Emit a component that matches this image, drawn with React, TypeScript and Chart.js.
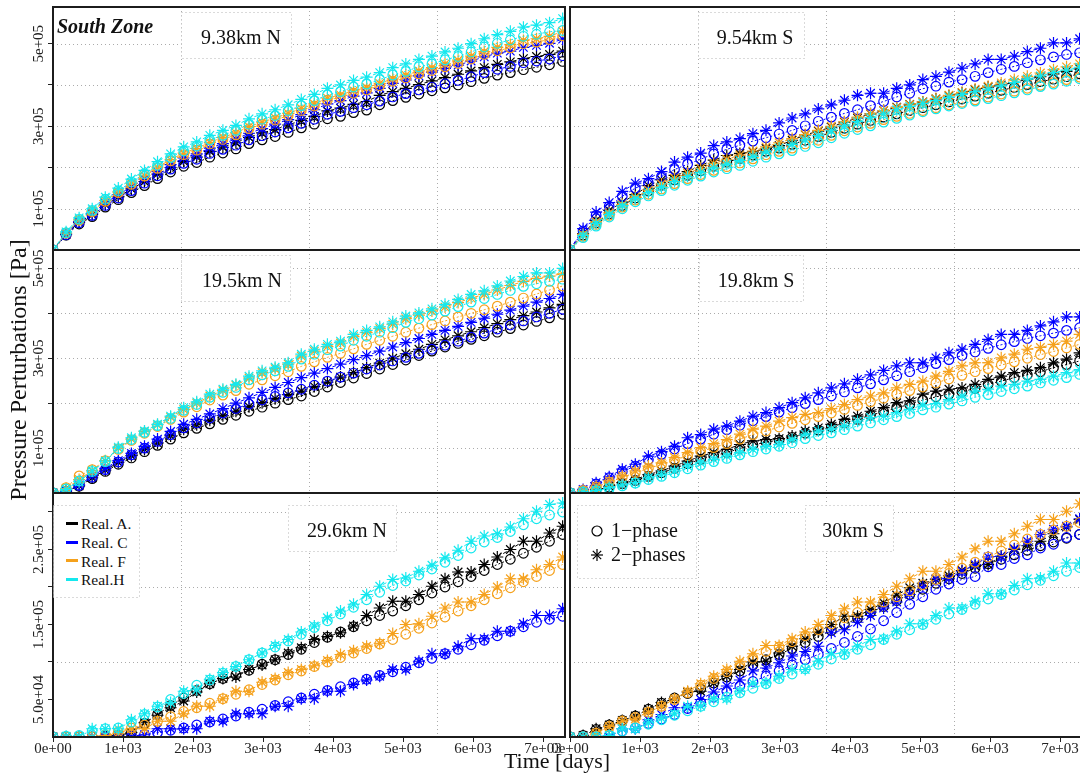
import React, { useEffect, useRef } from 'react';
import { Chart, registerables } from 'chart.js';

Chart.register(...registerables);

const SERIF = "'Liberation Serif', 'DejaVu Serif', 'Times New Roman', serif";

// ---- time axis (days) ----
const TIME_DAYS = [0, 187, 373, 560, 747, 933, 1120, 1307, 1493, 1680,
  1867, 2053, 2240, 2427, 2613, 2800, 2987, 3173, 3360, 3547,
  3733, 3920, 4107, 4293, 4480, 4667, 4853, 5040, 5227, 5413,
  5600, 5787, 5973, 6160, 6347, 6533, 6720, 6907, 7093, 7280];

// ---- values in kPa ----  (_1 = 1-phase, _2 = 2-phases)
// 9.38km N
const N938_A_1 = [0,36,63,81,104,122,139,156,173,189,203,212,225,235,245,258,267,275,285,296,305,318,324,333,339,352,362,370,378,386,393,400,408,416,424,430,437,443,449,457];
const N938_A_2 = [0,38,67,86,110,129,148,166,184,200,215,225,239,249,260,273,284,292,303,314,324,337,344,353,360,375,384,392,401,410,418,426,434,442,450,456,464,469,474,482];
const N938_C_1 = [0,37,66,84,108,126,144,162,180,196,210,220,234,244,254,267,277,286,296,307,317,329,336,345,352,361,371,379,388,395,403,411,420,430,438,445,454,458,463,471];
const N938_C_2 = [0,39,69,89,114,134,153,172,190,207,223,233,247,258,269,283,294,305,316,328,340,354,362,373,381,392,404,412,422,431,440,448,458,468,477,482,491,496,501,511];
const N938_F_1 = [0,41,72,93,118,139,159,179,198,216,231,242,257,268,279,294,305,315,326,338,349,363,370,380,388,398,409,417,427,435,444,452,463,474,483,490,500,504,510,519];
const N938_F_2 = [0,41,73,94,120,141,162,181,201,219,235,246,261,273,284,299,310,320,331,343,354,368,376,386,394,404,415,424,434,442,451,460,470,481,491,498,508,512,518,530];
const N938_H_1 = [0,42,75,96,123,144,165,185,205,224,240,252,267,278,290,305,317,326,338,350,362,376,384,395,402,413,424,433,444,451,461,469,480,492,501,509,518,523,529,532];
const N938_H_2 = [0,44,78,100,128,150,172,193,214,233,250,262,278,290,302,318,330,340,352,365,377,392,400,411,419,430,442,451,462,470,480,489,500,512,522,530,540,545,551,561];
// 9.54km S
const S954_A_1 = [0,36,66,88,108,126,143,157,170,181,192,203,213,222,230,239,247,256,266,275,285,295,305,314,322,330,338,345,352,359,366,373,380,387,394,401,408,414,420,427];
const S954_A_2 = [0,40,72,96,116,134,156,170,181,190,205,218,229,234,238,246,253,266,279,288,298,310,320,330,338,346,353,359,366,374,381,388,395,400,406,414,420,427,433,439];
const S954_C_1 = [0,46,84,106,130,150,163,178,195,208,220,233,244,254,264,272,281,290,301,312,322,331,340,350,360,371,380,391,397,407,413,421,430,438,445,454,461,468,474,478];
const S954_C_2 = [0,52,92,115,142,162,173,190,213,225,235,253,262,270,282,290,308,320,330,342,352,363,375,380,380,392,400,413,421,431,441,451,462,462,470,481,489,502,502,512];
const S954_F_1 = [0,33,62,84,104,121,135,148,161,173,183,193,202,211,221,231,239,247,257,266,278,289,298,307,316,324,331,338,345,352,358,364,371,378,385,392,399,406,413,419];
const S954_F_2 = [0,38,68,90,110,128,145,160,174,186,198,210,220,230,240,250,260,270,280,290,300,311,322,330,338,345,352,359,367,375,382,390,397,405,413,421,429,437,444,451];
const S954_H_1 = [0,30,58,80,100,117,131,144,157,169,179,189,197,205,215,225,233,241,251,260,272,283,292,301,310,319,327,335,342,349,355,361,367,374,381,388,396,402,409,415];
const S954_H_2 = [0,35,64,86,107,124,139,152,166,178,188,199,208,217,227,238,247,256,267,277,289,301,311,321,330,340,348,355,362,370,377,384,390,398,406,414,422,430,436,443];
// 19.5km N
const N195_A_1 = [0,4,15,32,48,64,78,92,106,120,134,144,154,164,173,182,191,200,208,216,226,236,246,256,266,276,286,296,306,316,325,333,342,350,358,366,374,382,390,398];
const N195_A_2 = [0,4,16,34,51,68,83,97,111,127,142,152,162,172,182,192,201,210,219,227,237,247,258,268,279,289,300,310,320,331,341,350,359,368,377,386,395,403,412,420];
const N195_C_1 = [0,4,17,35,52,69,85,100,115,130,145,156,167,178,188,198,207,215,223,231,240,249,258,267,276,285,294,302,311,320,329,338,347,356,365,374,383,392,400,409];
const N195_C_2 = [0,5,18,38,55,72,88,104,120,137,153,164,176,188,200,212,224,235,246,257,267,277,287,297,306,316,325,335,344,353,362,371,380,389,398,407,416,425,433,442];
const N195_F_1 = [0,12,38,52,72,97,117,133,148,164,180,192,207,218,228,242,252,261,270,282,292,302,311,321,331,340,349,358,367,375,383,392,400,408,416,425,434,443,452,461];
const N195_F_2 = [0,10,30,50,72,100,120,137,152,169,186,200,216,228,240,256,268,277,287,305,316,326,334,348,357,366,376,388,396,405,414,424,434,442,452,462,471,478,483,488];
const N195_H_1 = [0,9,27,48,70,99,119,135,150,166,184,197,213,224,235,252,263,272,282,298,309,319,327,340,349,358,368,380,388,396,405,415,425,433,442,451,460,466,471,476];
const N195_H_2 = [0,8,25,49,71,102,123,138,153,171,190,203,220,231,242,260,272,280,290,309,320,331,338,353,362,370,381,394,401,410,420,431,442,450,461,472,482,490,490,500];
// 19.8km S
const S198_A_1 = [0,2,7,13,21,28,37,45,55,65,75,83,90,99,107,113,118,124,133,140,147,156,164,173,181,190,197,207,214,220,225,233,242,249,257,263,270,279,286,294];
const S198_A_2 = [0,2,8,15,23,30,41,49,60,71,82,90,97,108,116,119,121,127,138,145,153,164,171,182,190,201,205,220,227,231,234,242,253,260,268,273,279,290,298,312];
const S198_C_1 = [0,6,20,34,48,60,74,86,98,110,120,131,141,151,161,170,180,190,199,208,216,225,234,243,252,261,270,279,288,297,306,314,322,330,337,344,350,356,362,368];
const S198_C_2 = [0,8,23,36,53,64,82,92,104,123,130,142,149,160,171,179,190,201,212,223,234,243,253,263,273,283,290,290,301,312,320,331,342,353,353,362,372,381,392,392];
const S198_F_1 = [0,5,13,24,35,45,55,63,73,83,93,101,110,120,130,138,147,155,163,170,178,186,195,203,211,220,228,236,245,254,262,270,277,285,292,300,308,315,323,331];
const S198_F_2 = [0,6,15,27,38,49,60,67,79,90,101,110,119,131,142,149,160,168,175,179,188,197,208,216,223,234,242,249,260,271,283,290,290,301,309,320,324,331,338,353];
const S198_H_1 = [0,2,5,10,16,22,30,37,45,54,62,70,77,85,92,98,104,112,121,128,134,141,149,156,163,170,177,185,191,198,205,213,219,226,232,238,245,251,257,264];
const S198_H_2 = [0,2,6,12,18,23,34,41,49,60,67,75,82,90,97,104,108,119,131,138,142,149,160,168,171,179,186,196,199,208,216,227,231,238,242,249,253,260,268,275];
// 29.6km N
const N296_A_1 = [0,0,0,0,1,2,6,18,30,42,52,62,71,78,83,89,97,103,110,117,126,133,140,147,155,162,168,175,183,192,200,207,214,222,230,237,245,253,261,270];
const N296_A_2 = [0,0,0,0,1,2,6,19,29,39,48,60,71,78,80,90,96,103,112,119,130,134,139,148,162,172,181,181,190,201,211,220,220,230,240,250,261,261,272,281];
const N296_C_1 = [0,0,0,0,0,0,1,3,6,9,12,16,20,24,28,33,37,42,47,52,57,62,67,72,77,82,87,93,99,105,111,117,123,129,135,141,147,153,157,161];
const N296_C_2 = [0,0,0,0,0,0,0,3,11,11,11,11,21,21,31,31,31,41,41,51,51,61,61,70,76,81,90,90,101,111,111,121,131,131,141,141,151,162,162,171];
const N296_F_1 = [0,0,0,0,3,7,12,16,21,27,34,39,45,51,57,63,70,76,83,88,94,100,106,112,118,124,130,137,145,152,160,168,175,183,191,199,207,214,222,230];
const N296_F_2 = [0,0,0,0,2,5,11,11,21,21,31,41,41,51,61,61,73,78,86,90,95,102,110,115,121,125,138,150,151,161,172,180,180,190,200,211,211,223,230,240];
const N296_H_1 = [0,1,2,8,11,12,20,30,40,50,58,69,76,85,94,103,112,120,128,137,146,155,164,173,183,193,202,208,216,224,233,242,252,260,266,274,283,291,296,300];
const N296_H_2 = [0,1,1,11,11,11,23,31,41,46,61,63,77,86,94,103,112,122,130,140,148,159,168,177,190,201,210,212,221,229,239,249,261,268,271,280,291,301,310,312];
// 30km S
const S30_A_1 = [0,2,10,16,22,28,37,45,52,58,64,72,80,88,96,103,110,118,126,134,142,150,158,166,174,182,190,197,205,211,218,225,231,237,243,249,255,260,265,270];
const S30_A_2 = [0,2,11,16,22,28,37,46,51,60,61,72,81,90,100,101,112,121,131,140,150,161,161,170,179,189,199,205,210,215,222,228,230,241,250,255,261,271,280,290];
const S30_C_1 = [0,0,0,2,8,12,18,24,30,38,46,53,61,68,74,81,88,96,103,110,118,126,134,144,155,166,177,187,197,204,210,214,227,230,238,243,252,257,266,270];
const S30_C_2 = [0,0,0,0,11,11,23,30,39,39,50,60,68,76,88,92,99,108,114,121,139,143,153,162,172,180,190,201,211,211,221,230,240,241,251,261,270,277,281,291];
const S30_F_1 = [0,0,5,14,21,26,33,41,50,59,69,78,87,96,105,114,120,127,135,143,151,159,166,173,180,187,195,203,210,218,225,233,240,248,256,264,270,276,281,286];
const S30_F_2 = [0,0,5,14,21,24,33,41,51,61,71,81,90,101,111,122,122,131,140,150,162,171,180,180,190,201,211,221,221,230,240,251,261,261,271,281,290,290,301,311];
const S30_H_1 = [0,0,0,2,8,12,17,23,29,35,41,47,53,59,65,71,78,84,91,97,104,110,117,123,130,137,143,150,157,164,170,177,184,190,196,203,209,215,221,226];
const S30_H_2 = [0,0,0,2,11,11,19,25,31,41,41,51,51,61,72,72,81,90,90,101,111,112,121,130,131,141,151,151,162,172,172,181,191,191,202,211,212,221,232,232];

// ---- categories / labels ----
const REALIZATIONS = ['Real. A.', 'Real. C', 'Real. F', 'Real.H'];
const REAL_COLORS = ['#000000', '#0000FF', '#F5A11C', '#14E8EE'];
const PHASE_LABELS = ['1\u2212phase', '2\u2212phases'];

const X_TICKS = [0, 1000, 2000, 3000, 4000, 5000, 6000, 7000];
const X_MAX = 7314;
const ROW_Y_MAX = [589000, 541000, 325300];
const ROW_Y_TICKS = [
  [100000, 200000, 300000, 400000, 500000],
  [100000, 200000, 300000, 400000, 500000],
  [50000, 100000, 150000, 200000, 250000, 300000],
];
const ROW_Y_GRID = [
  [100000, 200000, 300000, 400000, 500000],
  [100000, 200000, 300000, 400000, 500000],
  [100000, 200000, 300000],
];
const ROW_Y_LABEL_VALUES = [
  [100000, 300000, 500000],
  [100000, 300000, 500000],
  [50000, 150000, 250000],
];
const ROW_Y_LABEL_TEXT = [
  ['1e+05', '3e+05', '5e+05'],
  ['1e+05', '3e+05', '5e+05'],
  ['5.0e+04', '1.5e+05', '2.5e+05'],
];

const PANELS = [
  { title: '9.38km N', row: 0, col: 0, one: [N938_A_1, N938_C_1, N938_F_1, N938_H_1], two: [N938_A_2, N938_C_2, N938_F_2, N938_H_2] },
  { title: '9.54km S', row: 0, col: 1, one: [S954_A_1, S954_C_1, S954_F_1, S954_H_1], two: [S954_A_2, S954_C_2, S954_F_2, S954_H_2] },
  { title: '19.5km N', row: 1, col: 0, one: [N195_A_1, N195_C_1, N195_F_1, N195_H_1], two: [N195_A_2, N195_C_2, N195_F_2, N195_H_2] },
  { title: '19.8km S', row: 1, col: 1, one: [S198_A_1, S198_C_1, S198_F_1, S198_H_1], two: [S198_A_2, S198_C_2, S198_F_2, S198_H_2] },
  { title: '29.6km N', row: 2, col: 0, one: [N296_A_1, N296_C_1, N296_F_1, N296_H_1], two: [N296_A_2, N296_C_2, N296_F_2, N296_H_2] },
  { title: '30km S', row: 2, col: 1, one: [S30_A_1, S30_C_1, S30_F_1, S30_H_1], two: [S30_A_2, S30_C_2, S30_F_2, S30_H_2] },
];

// ---- layout ----
const CANVAS_W = 1100;
const CANVAS_H = 773;
const X_AXIS_H = 34;
const COL_X = [[53, 565], [570, 1082]];
const ROW_Y = [[7, 250], [250, 493], [493, 737]];
const TITLE_BOXES = [
  { x: 181, y: 12, w: 111, h: 47, cx: 241 },
  { x: 698, y: 12, w: 107, h: 47, cx: 755 },
  { x: 181, y: 255, w: 110, h: 47, cx: 242 },
  { x: 699, y: 255, w: 105, h: 47, cx: 756 },
  { x: 288, y: 505, w: 109, h: 47, cx: 347 },
  { x: 805, y: 505, w: 89, h: 47, cx: 853 },
];

const fmtX = (v: number) => (v === 0 ? '0e+00' : `${Math.round(v / 1000)}e+03`);

function makeFramePlugin(row: number, col: number) {
  return {
    id: 'frame' + row + col,
    beforeDatasetsDraw(chart: any) {
      const { ctx, chartArea: a, scales } = chart;
      ctx.save();
      ctx.strokeStyle = '#ababab';
      ctx.lineWidth = 1;
      ctx.setLineDash([1, 3]);
      [0.25, 0.5, 0.75].forEach((f) => {
        const x = Math.round(scales.x.getPixelForValue(X_MAX * f)) + 0.5;
        ctx.beginPath(); ctx.moveTo(x, a.top); ctx.lineTo(x, a.bottom); ctx.stroke();
      });
      ROW_Y_GRID[row].forEach((v) => {
        const y = Math.round(scales.y.getPixelForValue(v)) + 0.5;
        ctx.beginPath(); ctx.moveTo(a.left, y); ctx.lineTo(a.right, y); ctx.stroke();
      });
      ctx.restore();
    },
    afterDatasetsDraw(chart: any) {
      const { ctx, chartArea: a, scales } = chart;
      ctx.save();
      ctx.strokeStyle = '#1c1c1c';
      ctx.lineWidth = 2;
      ctx.setLineDash([]);
      ctx.strokeRect(a.left, a.top, a.right - a.left, a.bottom - a.top);
      if (col === 0) {
        ctx.fillStyle = '#222';
        ctx.font = `15px ${SERIF}`;
        ctx.textAlign = 'center';
        ctx.textBaseline = 'alphabetic';
        ROW_Y_LABEL_VALUES[row].forEach((v, k) => {
          const y = scales.y.getPixelForValue(v);
          ctx.save();
          ctx.translate(43, y);
          ctx.rotate(-Math.PI / 2);
          ctx.fillText(ROW_Y_LABEL_TEXT[row][k], 0, 0);
          ctx.restore();
        });
      }
      ctx.restore();
    },
  };
}

function PanelChart({ index }: { index: number }) {
  const ref = useRef<HTMLCanvasElement>(null);
  useEffect(() => {
    const p = PANELS[index];
    const [x0, x1] = COL_X[p.col];
    const [y0, y1] = ROW_Y[p.row];
    const isBottom = p.row === 2;
    const isLeft = p.col === 0;
    const xh = isBottom ? X_AXIS_H : 0;
    const datasets: any[] = [];
    for (let r = 0; r < REALIZATIONS.length; r++) {
      const c = REAL_COLORS[r];
      datasets.push({
        label: `${REALIZATIONS[r]} ${PHASE_LABELS[0]}`,
        data: TIME_DAYS.map((t, i) => ({ x: t, y: p.one[r][i] * 1000 })),
        borderColor: c, backgroundColor: 'transparent', borderWidth: 1, borderDash: [2, 2],
        pointStyle: 'circle', pointRadius: 4.8, pointBorderWidth: 1.2,
        pointBorderColor: c, pointBackgroundColor: 'transparent', tension: 0, fill: false,
      });
      datasets.push({
        label: `${REALIZATIONS[r]} ${PHASE_LABELS[1]}`,
        data: TIME_DAYS.map((t, i) => ({ x: t, y: p.two[r][i] * 1000 })),
        borderColor: c, backgroundColor: 'transparent', borderWidth: 1, borderDash: [4, 3],
        pointStyle: 'star', pointRadius: 6, pointBorderWidth: 1.2,
        pointBorderColor: c, pointBackgroundColor: 'transparent', tension: 0, fill: false,
      });
    }
    datasets.reverse();
    const chart = new Chart(ref.current as HTMLCanvasElement, {
      type: 'line',
      data: { datasets },
      options: {
        animation: false,
        responsive: false,
        devicePixelRatio: 1,
        events: [],
        layout: {
          autoPadding: false,
          padding: { left: x0, right: CANVAS_W - x1, top: y0, bottom: CANVAS_H - y1 - xh },
        },
        plugins: { legend: { display: false }, tooltip: { enabled: false }, title: { display: false } },
        scales: {
          x: {
            type: 'linear', min: 0, max: X_MAX, position: 'bottom',
            afterBuildTicks: (s: any) => { s.ticks = X_TICKS.map((v) => ({ value: v })); },
            afterFit: (s: any) => { s.height = xh; },
            grid: { display: isBottom, drawOnChartArea: false, drawTicks: true, tickLength: 5, tickColor: '#222', tickWidth: 1 },
            border: { display: false },
            ticks: {
              display: isBottom, autoSkip: false, maxRotation: 0, minRotation: 0, padding: -2,
              color: '#222', font: { family: SERIF, size: 15 },
              callback: (v: any) => fmtX(Number(v)),
            },
          },
          y: {
            type: 'linear', min: 0, max: ROW_Y_MAX[p.row], position: 'left',
            afterBuildTicks: (s: any) => { s.ticks = ROW_Y_TICKS[p.row].map((v) => ({ value: v })); },
            afterFit: (s: any) => { s.width = 0; },
            grid: { display: isLeft, drawOnChartArea: false, drawTicks: true, tickLength: 5, tickColor: '#222', tickWidth: 1 },
            border: { display: false },
            ticks: { display: false },
          },
        },
      } as any,
      plugins: [makeFramePlugin(p.row, p.col)],
    });
    return () => chart.destroy();
  }, [index]);
  return (
    <canvas
      ref={ref}
      width={CANVAS_W}
      height={CANVAS_H}
      style={{ position: 'absolute', left: 0, top: 0, width: CANVAS_W, height: CANVAS_H }}
    />
  );
}

function DottedBox({ x, y, w, h, children }: { x: number; y: number; w: number; h: number; children?: any }) {
  return (
    <div style={{ position: 'absolute', left: x, top: y, width: w, height: h }}>
      <svg width={w} height={h} style={{ position: 'absolute', left: 0, top: 0 }}>
        <rect x={0.5} y={0.5} width={w - 1} height={h - 1} fill="#ffffff" stroke="#b5b5b5" strokeWidth={1} strokeDasharray="1 3" />
      </svg>
      {children}
    </div>
  );
}

export default function App() {
  const legendLeftBaselines = [529.3, 548, 566.5, 585];
  const legendLeftLineY = [523.3, 542.3, 560.7, 579.3];
  return (
    <div style={{ position: 'fixed', left: 0, top: 0, width: 1080, height: 773, overflow: 'hidden', background: '#fff' }}>
      {PANELS.map((_, i) => <PanelChart key={i} index={i} />)}

      {/* panel titles */}
      {PANELS.map((p, i) => {
        const b = TITLE_BOXES[i];
        return (
          <React.Fragment key={'t' + i}>
            <DottedBox x={b.x} y={b.y} w={b.w} h={b.h} />
            <div style={{
              position: 'absolute', left: b.cx - 80, width: 160, top: b.y + 32 - 16.75,
              textAlign: 'center', font: `20px/20px ${SERIF}`, color: '#111', whiteSpace: 'nowrap',
            }}>{p.title}</div>
          </React.Fragment>
        );
      })}

      {/* South Zone */}
      <div style={{ position: 'absolute', left: 57, top: 16.25, font: `italic bold 20px/20px ${SERIF}`, color: '#111', whiteSpace: 'nowrap' }}>
        South Zone
      </div>

      {/* realization legend */}
      <DottedBox x={53} y={505} w={87} h={93} />
      {REALIZATIONS.map((name, k) => (
        <React.Fragment key={'lg' + k}>
          <div style={{ position: 'absolute', left: 66, top: legendLeftLineY[k] - 1.5, width: 12, height: 3, background: REAL_COLORS[k] }} />
          <div style={{
            position: 'absolute', left: 81, top: legendLeftBaselines[k] - 12.9,
            font: `15.5px/15.5px ${SERIF}`, color: '#111', whiteSpace: 'nowrap',
          }}>{name}</div>
        </React.Fragment>
      ))}

      {/* phase legend */}
      <DottedBox x={577} y={505} w={120} h={74} />
      <svg width={20} height={50} style={{ position: 'absolute', left: 587, top: 521 }}>
        <circle cx={10} cy={10} r={5} fill="none" stroke="#000" strokeWidth={1.2} />
        <g stroke="#000" strokeWidth={1.2}>
          <line x1={4} y1={34} x2={16} y2={34} />
          <line x1={10} y1={28} x2={10} y2={40} />
          <line x1={5.8} y1={29.8} x2={14.2} y2={38.2} />
          <line x1={5.8} y1={38.2} x2={14.2} y2={29.8} />
        </g>
      </svg>
      {PHASE_LABELS.map((lab, k) => (
        <div key={'ph' + k} style={{
          position: 'absolute', left: 611, top: (k === 0 ? 537 : 561) - 16.75,
          font: `20px/20px ${SERIF}`, color: '#111', whiteSpace: 'nowrap',
        }}>{lab}</div>
      ))}

      {/* axis titles */}
      <div style={{
        position: 'absolute', left: 18 - 200, top: 370 - 12, width: 400, height: 24,
        textAlign: 'center', font: `24px/24px ${SERIF}`, color: '#111', whiteSpace: 'nowrap',
        transform: 'rotate(-90deg)', transformOrigin: '50% 50%',
      }}>Pressure Perturbations [Pa]</div>
      <div style={{
        position: 'absolute', left: 557 - 100, top: 749.9, width: 200,
        textAlign: 'center', font: `22px/22px ${SERIF}`, color: '#111', whiteSpace: 'nowrap',
      }}>Time [days]</div>
    </div>
  );
}
